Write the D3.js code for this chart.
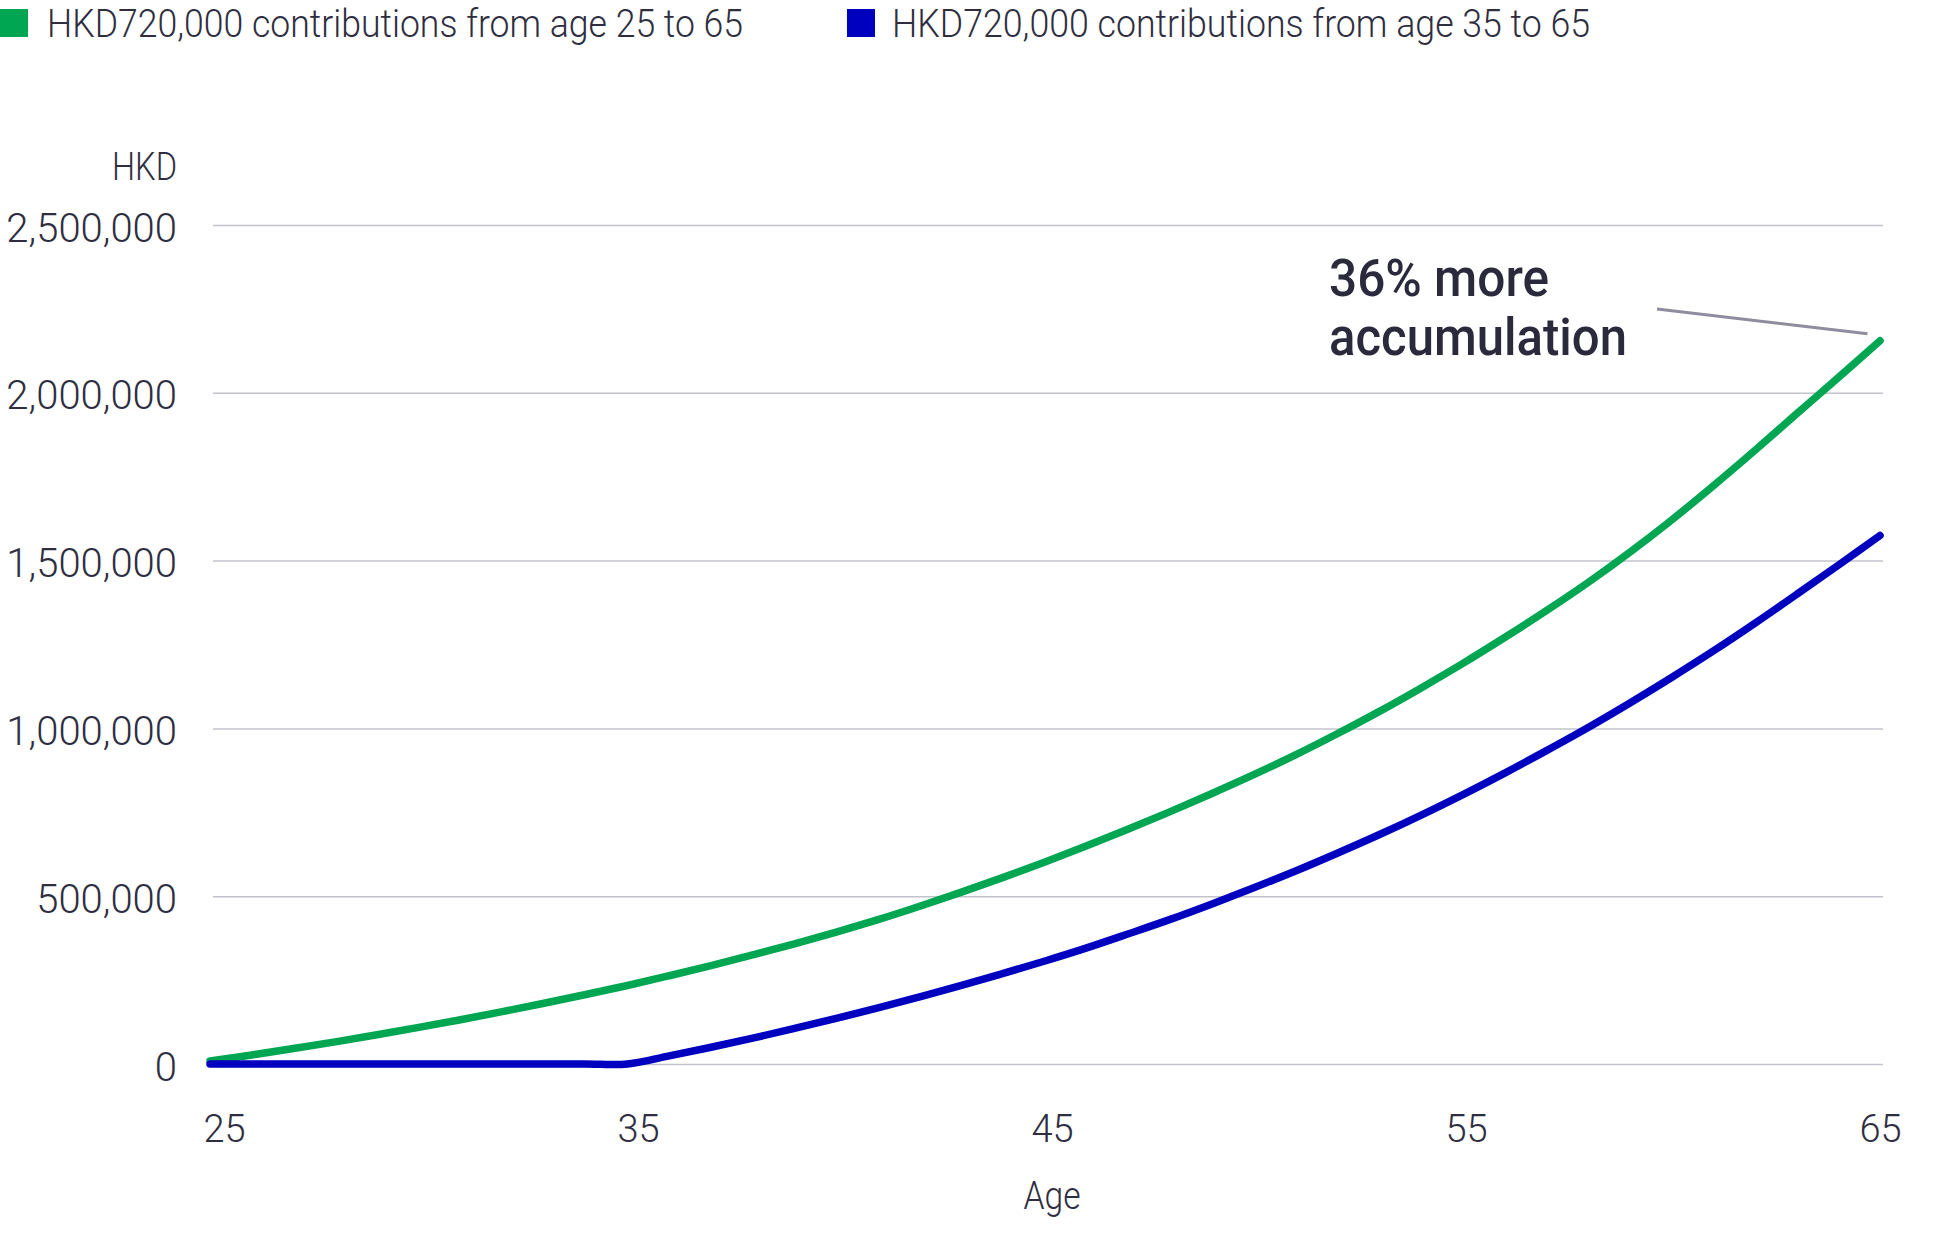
<!DOCTYPE html>
<html><head><meta charset="utf-8">
<script src="https://cdn.jsdelivr.net/npm/d3@7"></script>
<style>html,body{margin:0;padding:0;background:#fff;} svg{display:block;}</style>
</head><body>
<svg id="chart" width="1938" height="1234"></svg>
<script>
// ---- data ----
const ages = [25,26,27,28,29,30,31,32,33,34,35,36,37,38,39,40,41,42,43,44,45,46,47,48,49,50,51,52,53,54,55,56,57,58,59,60,61,62,63,64,65];
const from25 = [9000,27000,46000,66000,87000,109000,132000,156000,181000,207000,234000,263000,293000,325000,358000,393000,430000,470000,512000,556000,602000,650000,700000,752000,806000,862000,921000,984000,1050000,1120000,1193000,1270000,1350000,1434000,1524000,1620000,1722000,1828000,1937000,2045000,2155000];
const from35 = [0,0,0,0,0,0,0,0,0,0,0,24000,50000,77000,106000,136000,167000,200000,234000,270000,307000,346000,388000,431000,477000,525000,575000,628000,683000,741000,802000,866000,933000,1002000,1075000,1151000,1230000,1313000,1399000,1486000,1575000];
const yTicks = [0,500000,1000000,1500000,2000000,2500000];
const xTicks = [25,35,45,55,65];
const legendLabels = ["HKD720,000 contributions from age 25 to 65","HKD720,000 contributions from age 35 to 65"];
const seriesColors = ["#00a651","#0000bf"];
const annotationLines = ["36% more","accumulation"];
const yUnit = "HKD";
const xTitle = "Age";

// ---- drawing ----
const svg = d3.select("#chart");
const textColor = "#2e2e40";
const fontFam = "Roboto, 'Noto Sans', sans-serif";

const x = d3.scaleLinear().domain([25,65]).range([210,1880]);
const xLab = d3.scaleLinear().domain([25,65]).range([224,1880]);
const y = d3.scaleLinear().domain([0,2500000]).range([1064,225]);

// y axis + grid
const yAxis = svg.append("g").attr("transform","translate(213,0)")
  .call(d3.axisLeft(y).tickValues(yTicks).tickSize(-(1883-213)).tickPadding(36).tickFormat(d3.format(",")));
yAxis.select(".domain").remove();
yAxis.selectAll(".tick line").attr("stroke","#c3c3cc").attr("stroke-width",1.5);
yAxis.selectAll(".tick text").attr("fill",textColor).attr("font-family",fontFam).attr("font-weight",300)
  .attr("font-size",40).attr("dy","0.4em");

// x axis
const xAxis = svg.append("g").attr("transform","translate(0,1064)")
  .call(d3.axisBottom(xLab).tickValues(xTicks).tickSize(0).tickPadding(51).tickFormat(d3.format("d")));
xAxis.select(".domain").remove();
xAxis.selectAll(".tick text").attr("fill",textColor).attr("font-family",fontFam).attr("font-weight",300)
  .attr("font-size",38);

// axis titles
svg.append("text").attr("x",177).attr("y",180).attr("text-anchor","end")
  .attr("font-family",fontFam).attr("font-weight",300).attr("font-size",38).attr("fill",textColor)
  .attr("textLength",65).attr("lengthAdjust","spacingAndGlyphs").text(yUnit);
svg.append("text").attr("x",xLab(45)).attr("y",1209).attr("text-anchor","middle")
  .attr("font-family",fontFam).attr("font-weight",300).attr("font-size",38).attr("fill",textColor)
  .attr("textLength",57).attr("lengthAdjust","spacingAndGlyphs").text(xTitle);

// lines
const line = d3.line().x((d,i)=>x(ages[i])).y(d=>y(d)).curve(d3.curveCatmullRom);
[from25, from35].forEach((s,i)=>{
  svg.append("path").datum(s).attr("d",line).attr("fill","none")
    .attr("stroke",seriesColors[i]).attr("stroke-width",7.5)
    .attr("stroke-linecap","round").attr("stroke-linejoin","round");
});

// legend
const legendX = [[0,47,696],[847,892,698]];
legendLabels.forEach((t,i)=>{
  const [rx,tx,tl] = legendX[i];
  svg.append("rect").attr("x",rx).attr("y",9).attr("width",28).attr("height",28).attr("fill",seriesColors[i]);
  svg.append("text").attr("x",tx).attr("y",37).attr("font-family",fontFam).attr("font-weight",300)
    .attr("font-size",38).attr("fill",textColor)
    .attr("textLength",tl).attr("lengthAdjust","spacingAndGlyphs").text(t);
});

// annotation
svg.append("line").attr("x1",1657).attr("y1",309).attr("x2",x(64.7)).attr("y2",y(from25[from25.length-1])-7)
  .attr("stroke","#8e8c9e").attr("stroke-width",3);
const annLen = [220,298];
annotationLines.forEach((t,i)=>{
  svg.append("text").attr("x",1329).attr("y",296+i*59).attr("font-family",fontFam).attr("font-weight",500)
    .attr("font-size",51).attr("fill","#2a2a3c")
    .attr("textLength",annLen[i]).attr("lengthAdjust","spacingAndGlyphs").text(t);
});
</script>
</body></html>
